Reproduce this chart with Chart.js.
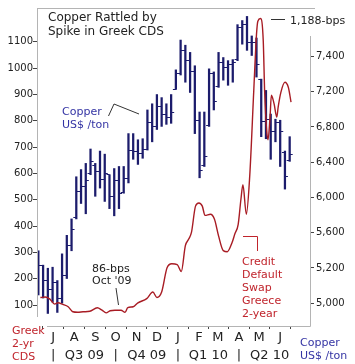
<!DOCTYPE html>
<html><head><meta charset="utf-8">
<script src="https://cdn.jsdelivr.net/npm/chart.js@4.4.0/dist/chart.umd.min.js"></script>
<style>html,body{margin:0;padding:0;background:#fff;overflow:hidden}#wrap{position:relative;width:355px;height:364px}canvas{display:block}</style>
</head><body><div id="wrap"><canvas id="c" width="355" height="364" style="width:355px;height:364px"></canvas></div>
<script>
// ---------- DATA ----------
const copperDates = ['2009-06-09','2009-06-16','2009-06-23','2009-06-30','2009-07-07','2009-07-14','2009-07-21','2009-07-28',
 '2009-08-04','2009-08-11','2009-08-18','2009-08-25','2009-09-01','2009-09-08','2009-09-15','2009-09-22','2009-09-29',
 '2009-10-06','2009-10-13','2009-10-20','2009-10-27','2009-11-03','2009-11-10','2009-11-17','2009-11-24',
 '2009-12-01','2009-12-08','2009-12-15','2009-12-22','2009-12-29','2010-01-05','2010-01-12','2010-01-19','2010-01-26',
 '2010-02-02','2010-02-09','2010-02-16','2010-02-23','2010-03-02','2010-03-09','2010-03-16','2010-03-23','2010-03-30',
 '2010-04-06','2010-04-13','2010-04-20','2010-04-27','2010-05-04','2010-05-11','2010-05-18','2010-05-25',
 '2010-06-01','2010-06-08','2010-06-15'];
const copperHigh  = [5510,5370,5340,5350,5220,5480,5660,5820,6230,6300,6360,6500,6360,6480,6450,6250,6310,6330,6330,6650,6650,6590,6600,6880,6940,7030,7000,6940,7030,7270,7560,7510,7440,7310,6860,6860,7280,7250,7440,7390,7360,7370,7710,7750,7790,7600,7580,7180,7070,6840,6790,6780,6480,6620];
const copperLow   = [5080,5050,4900,5010,4910,5000,5240,5510,5820,5970,5870,6250,6040,6120,5990,5920,5850,5920,6070,6170,6400,6350,6410,6490,6570,6690,6720,6740,6750,7080,7220,7150,7050,6650,6220,6330,6720,6880,7100,7170,7120,7150,7360,7520,7460,7410,7200,6620,6600,6400,6570,6330,6110,6380];
const copperOpen  = [5250,5370,5220,5130,5200,5050,5270,5560,5830,6090,6140,6260,6340,6280,6200,6250,6040,6190,6080,6210,6490,6480,6460,6500,6760,6720,6910,6840,6810,7080,7230,7460,7360,7250,6780,6340,6730,7230,7110,7340,7290,7320,7370,7680,7710,7540,7540,7180,6770,6790,6670,6760,6470,6390];
const copperClose = [5370,5220,5130,5200,5050,5270,5560,5720,6090,6140,6190,6380,6280,6200,6260,6040,6190,6070,6210,6490,6480,6460,6500,6760,6720,6910,6840,6810,6860,7230,7460,7360,7250,6780,6290,6430,7230,6960,7340,7290,7320,7340,7680,7710,7540,7540,7320,6770,6790,6670,6760,6670,6230,6450];

const cdsDates = ['2009-06-12','2009-06-19','2009-06-26','2009-07-03','2009-07-08','2009-07-15','2009-07-23','2009-07-30',
 '2009-08-06','2009-08-14','2009-08-24','2009-09-04','2009-09-11','2009-09-17','2009-09-23','2009-09-30','2009-10-09',
 '2009-10-15','2009-10-19','2009-10-27','2009-11-03','2009-11-16','2009-11-25','2009-12-01','2009-12-08','2009-12-16',
 '2009-12-23','2009-12-31','2010-01-06','2010-01-12','2010-01-17','2010-01-21','2010-01-27','2010-02-01','2010-02-06',
 '2010-02-10','2010-02-18','2010-02-24','2010-03-02','2010-03-09','2010-03-15','2010-03-22','2010-03-26','2010-03-31',
 '2010-04-04','2010-04-07','2010-04-12','2010-04-17','2010-04-23','2010-04-27','2010-04-29','2010-05-03','2010-05-07',
 '2010-05-09','2010-05-12','2010-05-14','2010-05-17','2010-05-19','2010-05-23','2010-05-27','2010-05-29','2010-06-02',
 '2010-06-08','2010-06-13','2010-06-17'];
const cdsValues = [129,131,123,104,109,103,94,75,73,75,77,90,81,71,79,81,81,73,91,94,109,125,150,129,150,242,257,254,228,326,351,376,476,488,476,441,445,426,363,307,303,338,370,407,501,557,445,589,915,1127,1178,1188,1103,915,764,728,814,897,864,814,852,908,946,927,871];

const cdsTicks = [100,200,300,400,500,600,700,800,900,1000,1100];
const copperTickLabels = [5000,5200,5600,6000,6400,6800,7200,7400];
const monthTickDates = ['2009-07-01','2009-08-01','2009-09-01','2009-10-01','2009-11-01','2009-12-01','2010-01-01','2010-02-01','2010-03-01','2010-04-01','2010-05-01','2010-06-01'];
const monthLabels = ['J','A','S','O','N','D','J','F','M','A','M','J'];
const quarterStarts = ['2009-07-01','2009-10-01','2010-01-01','2010-04-01','2010-07-01'];
const quarterLabels = ['Q3 09','Q4 09','Q1 10','Q2 10'];
const xRange = ['2009-06-07','2010-07-15'];

const titleLines = ['Copper Rattled by','Spike in Greek CDS'];
const copperNote = ['Copper','US$ /ton'];
const lowNote = ['86-bps',"Oct '09"];
const peakNote = '1,188-bps';
const cdsNote = ['Credit','Default','Swap','Greece','2-year'];
const leftAxisNote = ['Greek','2-yr','CDS'];
const rightAxisNote = ['Copper','US$ /ton'];

// ---------- HELPERS ----------
const BASE = Date.UTC(2009,6,1);
function dayOf(s){const p=s.split('-').map(Number);return (Date.UTC(p[0],p[1]-1,p[2])-BASE)/86400000;}
const FONT = 'DejaVu Sans';
const NAVY = '#1c1c6c', BLUE_TXT = '#3434a4', RED = '#a81c24', RED_TXT = '#c0242c';

function tickImg(side){
  const c=document.createElement('canvas');c.width=8;c.height=1;
  const g=c.getContext('2d');g.fillStyle=NAVY;
  if(side==='right')g.fillRect(4,0,3,1);else g.fillRect(1,0,3,1);
  return c;
}
const closeImg=tickImg('right'), openImg=tickImg('left');

const quarterTicks=[];const quarterTickText=[];
for(let i=0;i<quarterLabels.length;i++){
  const a=dayOf(quarterStarts[i]), b=dayOf(quarterStarts[i+1]);
  quarterTicks.push(a);quarterTickText.push('|');
  quarterTicks.push((a+b)/2);quarterTickText.push(quarterLabels[i]);
}

const annot={
  id:'annot',
  afterDraw(chart){
    const ctx=chart.ctx, a=chart.chartArea;
    ctx.save();
    // frame
    ctx.strokeStyle='#b4b4b4';ctx.lineWidth=1;ctx.beginPath();
    ctx.moveTo(a.left,a.top+0.5);ctx.lineTo(a.right+5,a.top+0.5);
    ctx.moveTo(a.left+0.5,a.top);ctx.lineTo(a.left+0.5,a.bottom-9);
    ctx.moveTo(a.right+0.5,a.top+28);ctx.lineTo(a.right+0.5,a.bottom+0.5);
    ctx.moveTo(a.left+10,a.bottom+0.5);ctx.lineTo(a.right+0.5,a.bottom+0.5);
    ctx.stroke();
    ctx.textBaseline='alphabetic';ctx.textAlign='left';
    // title
    ctx.fillStyle='#222';ctx.font='12px "'+FONT+'"';
    ctx.fillText(titleLines[0],48,20.5);ctx.fillText(titleLines[1],48,35);
    // copper note
    ctx.font='11px "'+FONT+'"';
    ctx.fillStyle=BLUE_TXT;ctx.fillText(copperNote[0],62,115);ctx.fillText(copperNote[1],62,127.5);
    ctx.strokeStyle='#333';ctx.beginPath();ctx.moveTo(108.5,116);ctx.lineTo(114,104);ctx.lineTo(139,114);ctx.stroke();
    // low note
    ctx.fillStyle='#222';ctx.fillText(lowNote[0],92,271.5);ctx.fillText(lowNote[1],92,284);
    ctx.beginPath();ctx.moveTo(116,288);ctx.lineTo(118.5,305);ctx.stroke();
    // peak note
    const yPeak=chart.scales.y.getPixelForValue(Math.max(...cdsValues));
    ctx.fillText(peakNote,290,yPeak+5);
    ctx.beginPath();ctx.moveTo(271,Math.round(yPeak)+0.5);ctx.lineTo(285,Math.round(yPeak)+0.5);ctx.stroke();
    // cds note
    ctx.fillStyle=RED_TXT;
    cdsNote.forEach((t,i)=>ctx.fillText(t,242,265+i*13));
    ctx.strokeStyle=RED_TXT;ctx.beginPath();ctx.moveTo(243,236.5);ctx.lineTo(257.5,236.5);ctx.lineTo(257.5,251);ctx.stroke();
    // axis notes
    leftAxisNote.forEach((t,i)=>ctx.fillText(t,12,333.5+i*13));
    ctx.fillStyle=BLUE_TXT;
    rightAxisNote.forEach((t,i)=>ctx.fillText(t,300,346+i*12.5));
    ctx.restore();
  }
};

new Chart(document.getElementById('c'),{
  data:{datasets:[
    {type:'line',label:'Greek 2-yr CDS',xAxisID:'x',yAxisID:'y',order:0,
     data:cdsDates.map((d,i)=>({x:dayOf(d),y:cdsValues[i]})),
     borderColor:RED,borderWidth:1.4,pointRadius:0,cubicInterpolationMode:'monotone',fill:false},
    {type:'scatter',label:'close',xAxisID:'x',yAxisID:'yR',order:1,
     data:copperDates.map((d,i)=>({x:dayOf(d),y:copperClose[i]})),pointStyle:closeImg,pointRadius:3,showLine:false},
    {type:'scatter',label:'open',xAxisID:'x',yAxisID:'yR',order:2,
     data:copperDates.map((d,i)=>({x:dayOf(d),y:copperOpen[i]})),pointStyle:openImg,pointRadius:3,showLine:false},
    {type:'bar',label:'Copper',xAxisID:'x',yAxisID:'yR',order:3,
     data:copperDates.map((d,i)=>({x:dayOf(d),y:[copperLow[i],copperHigh[i]]})),
     backgroundColor:NAVY,barThickness:1.6,grouped:false,borderWidth:0}
  ]},
  options:{
    responsive:false,animation:false,devicePixelRatio:1,
    layout:{padding:{top:5,left:0,right:0,bottom:0}},
    plugins:{legend:{display:false},tooltip:{enabled:false}},
    scales:{
      x:{type:'linear',position:'bottom',weight:0,offset:false,min:dayOf(xRange[0]),max:dayOf(xRange[1]),
        grid:{display:true,drawOnChartArea:false,drawTicks:true,tickLength:3,tickColor:'#444'},border:{display:false},
        afterBuildTicks:s=>{s.ticks=monthTickDates.map(d=>({value:dayOf(d)}));},
        afterFit:s=>{s.height=20;},
        ticks:{autoSkip:false,maxRotation:0,minRotation:0,padding:1,color:'#222',font:{family:FONT,size:13},
          callback:(v,i)=>monthLabels[i]}},
      xq:{type:'linear',position:'bottom',weight:1,offset:false,min:dayOf(xRange[0]),max:dayOf(xRange[1]),
        grid:{display:false,drawTicks:false,tickLength:0},border:{display:false},
        afterBuildTicks:s=>{s.ticks=quarterTicks.map(v=>({value:v}));},
        afterFit:s=>{s.height=18;},
        ticks:{autoSkip:false,maxRotation:0,minRotation:0,padding:2,color:'#222',font:{family:FONT,size:13},
          callback:(v,i)=>quarterTickText[i]}},
      y:{type:'linear',position:'left',min:21,max:1228,
        grid:{display:true,drawOnChartArea:false,drawTicks:true,tickLength:4,tickColor:'#444'},border:{display:false},
        afterBuildTicks:s=>{s.ticks=cdsTicks.map(v=>({value:v}));},
        afterFit:s=>{s.width=37;},
        ticks:{padding:0,color:'#222',font:{family:FONT,size:10},callback:v=>String(v)}},
      yR:{type:'linear',position:'right',min:4778,max:7872,
        grid:{display:true,drawOnChartArea:false,drawTicks:true,tickLength:4,tickColor:'#444'},border:{display:false},
        afterBuildTicks:s=>{const lo=copperTickLabels[0],hi=copperTickLabels[copperTickLabels.length-1],n=copperTickLabels.length-1;
          s.ticks=copperTickLabels.map((_,i)=>({value:lo+i*(hi-lo)/n}));},
        afterFit:s=>{s.width=45;},
        ticks:{padding:2,color:'#222',font:{family:FONT,size:10},
          callback:(v,i)=>copperTickLabels[i].toLocaleString('en-US')}}
    }
  },
  plugins:[annot]
});
</script></body></html>
